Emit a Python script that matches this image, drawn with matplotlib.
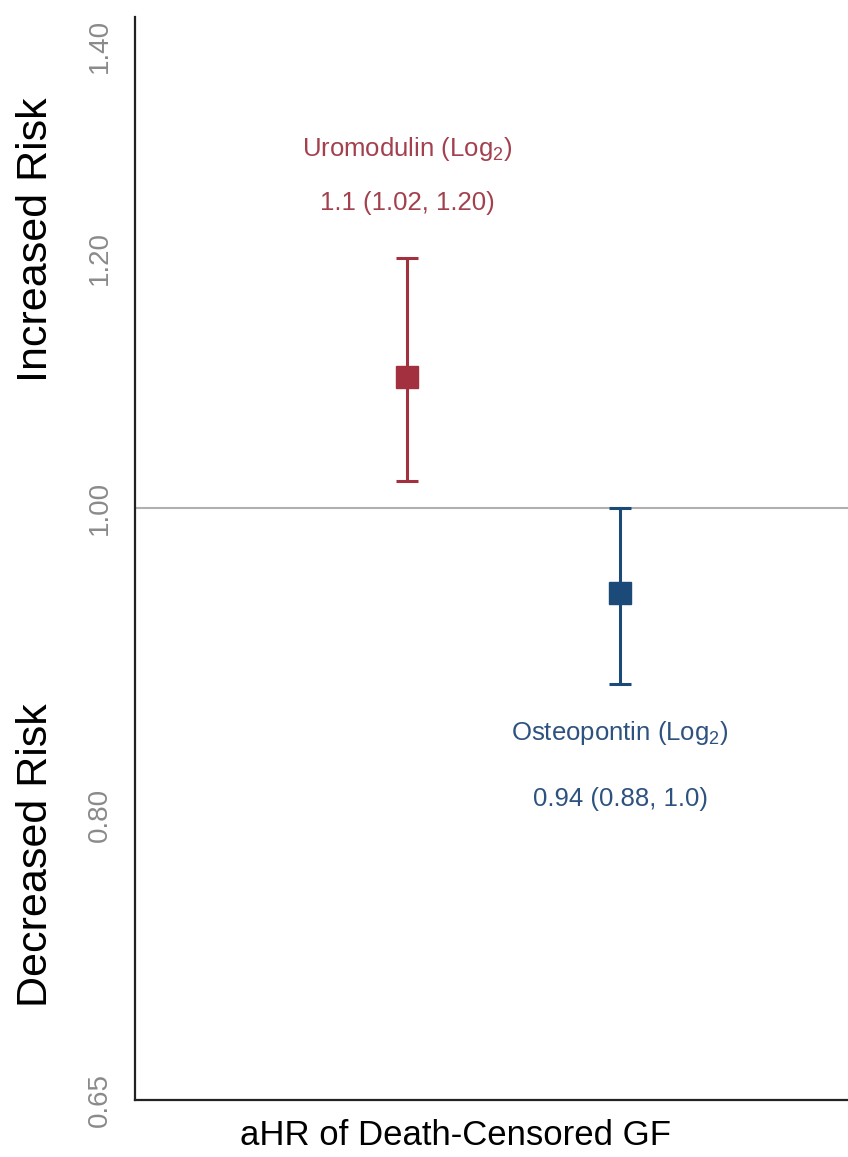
import matplotlib.pyplot as plt
import numpy as np

plt.rcParams['font.family'] = ['Liberation Sans', 'DejaVu Sans']
plt.rcParams['mathtext.fontset'] = 'custom'
plt.rcParams['mathtext.rm'] = 'Liberation Sans'

markers = ['Uromodulin', 'Osteopontin']
hr = [1.10, 0.94]
lower = [1.02, 0.88]
upper = [1.20, 1.00]
hr_labels = ['1.1 (1.02, 1.20)', '0.94 (0.88, 1.0)']
yticks = [0.65, 0.80, 1.00, 1.20, 1.40]
colors = ['#A3303F', '#1C4A78']
text_colors = ['#A3404E', '#2E5280']

fig = plt.figure(figsize=(8.48, 11.57), dpi=100)
ax = fig.add_axes([0.1592, 0.0493, 0.8408, 0.936])

x = np.arange(1, len(markers) + 1)
ax.axhline(1.0, color='#B0B0B0', lw=1.5, zorder=1)
for i in range(len(markers)):
    err = [[hr[i] - lower[i]], [upper[i] - hr[i]]]
    ax.errorbar(x[i], hr[i], yerr=err, fmt='s', color=colors[i], ms=16,
                elinewidth=2.2, capsize=8, capthick=2.2, zorder=3)

# annotations: uromodulin above its bar, osteopontin below
ax.text(x[0], 1.299, f'{markers[0]} (Log$_2$)', color=text_colors[0],
        fontsize=18.5, ha='center', va='center')
ax.text(x[0], 1.249, hr_labels[0], color=text_colors[0],
        fontsize=18.5, ha='center', va='center')
ax.text(x[1], 0.849, f'{markers[1]} (Log$_2$)', color=text_colors[1],
        fontsize=18.5, ha='center', va='center')
ax.text(x[1], 0.809, hr_labels[1], color=text_colors[1],
        fontsize=18.5, ha='center', va='center')

ax.set_yscale('log')
ax.set_ylim(0.65, 1.43)
ax.set_xlim(-0.277, 3.07)
ax.set_yticks(yticks)
ax.set_yticklabels([f'{t:.2f}' for t in yticks], rotation=90, va='center',
                   fontsize=20, color='#8A8A8A')
ax.yaxis.set_minor_locator(plt.NullLocator())
ax.set_xticks([])
ax.tick_params(axis='y', length=0, pad=16)

for s in ['top', 'right']:
    ax.spines[s].set_visible(False)
for s in ['left', 'bottom']:
    ax.spines[s].set_linewidth(1.6)
    ax.spines[s].set_color('#222222')

ax.set_xlabel('aHR of Death-Censored GF', fontsize=25, labelpad=14, x=0.45)
fig.text(0.043, 1 - 240 / 1157, 'Increased Risk', rotation=90, fontsize=31,
         ha='center', va='center')
fig.text(0.043, 1 - 855 / 1157, 'Decreased Risk', rotation=90, fontsize=31,
         ha='center', va='center')

fig.savefig('out.png', dpi=100)
